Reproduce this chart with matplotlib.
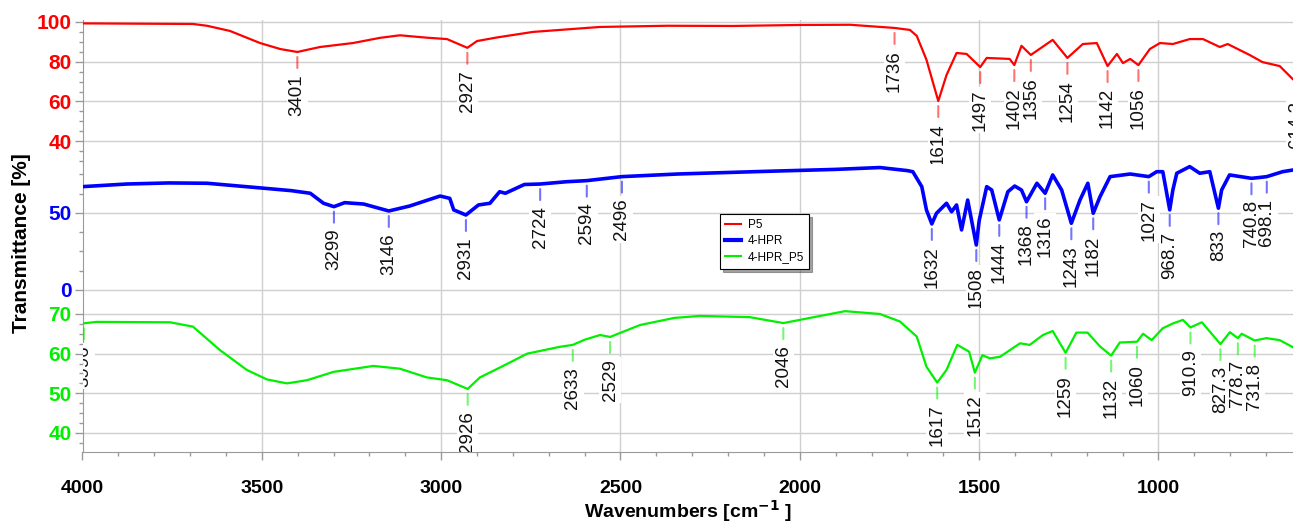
import numpy as np
import matplotlib
matplotlib.use("Agg")
import matplotlib.pyplot as plt
from matplotlib import font_manager
from matplotlib.transforms import offset_copy
from matplotlib.lines import Line2D
from matplotlib.ticker import MultipleLocator, FixedLocator

# ---------------- data ----------------
p5_wn = [4000, 3692, 3653, 3589, 3505, 3449, 3401, 3338, 3246, 3171, 3115, 3040, 2984, 2927,
         2900, 2845, 2744, 2557, 2370, 2186, 2000, 1860, 1736, 1693, 1674, 1647, 1614, 1591,
         1563, 1535, 1497, 1479, 1415, 1402, 1382, 1356, 1295, 1254, 1211, 1172, 1142, 1116,
         1099, 1079, 1056, 1024, 996, 960, 913, 876, 829, 807, 746, 710, 662, 626]
p5_t = [99.3, 99.0, 98.1, 95.5, 89.4, 86.4, 84.9, 87.4, 89.4, 92.0, 93.3, 92.1, 91.4, 87.0,
        90.4, 92.2, 95.0, 97.5, 98.1, 98.0, 98.5, 98.6, 97.0, 96.0, 93.0, 81.0, 60.2, 73.3,
        84.4, 83.9, 77.3, 81.9, 81.4, 78.3, 88.0, 83.4, 91.0, 81.9, 88.9, 89.4, 77.8, 83.9,
        79.3, 81.4, 78.3, 86.4, 89.4, 88.9, 91.4, 91.4, 87.4, 88.9, 83.4, 79.8, 77.8, 71.3]
p5_peaks = ["3401", "2927", "1736", "1614", "1497", "1402", "1356", "1254", "1142", "1056", "614.2"]

hpr_wn = [4000, 3877, 3760, 3653, 3525, 3418, 3365, 3328, 3299, 3269, 3216, 3146, 3088, 3045,
          3003, 2976, 2965, 2931, 2896, 2864, 2837, 2821, 2768, 2724, 2650, 2594, 2496, 2341,
          2100, 1900, 1777, 1700, 1685, 1660, 1647, 1632, 1619, 1591, 1577, 1563, 1549, 1532,
          1508, 1500, 1479, 1465, 1444, 1420, 1401, 1382, 1368, 1339, 1316, 1295, 1270, 1243,
          1219, 1197, 1182, 1163, 1135, 1079, 1027, 1005, 988, 968.7, 960, 949, 913, 885,
          857, 833, 824, 802, 740.8, 720, 698.1, 654, 625]
hpr_t = [67.1, 68.8, 69.5, 69.3, 66.7, 64.5, 62.8, 56.3, 54.1, 56.7, 55.8, 51.3, 54.5, 57.8,
         61.0, 59.5, 52.0, 48.7, 55.2, 56.3, 63.8, 62.8, 68.5, 68.8, 70.3, 71.0, 73.6, 75.3,
         77.0, 78.3, 79.5, 77.5, 76.8, 67.1, 52.0, 42.9, 49.8, 56.3, 50.8, 55.2, 39.0, 58.4,
         29.2, 45.0, 67.1, 64.9, 45.5, 63.8, 67.5, 64.9, 57.3, 69.3, 62.8, 74.7, 64.9, 43.3,
         58.4, 69.3, 49.8, 60.6, 73.6, 75.3, 73.6, 76.8, 76.8, 52.0, 64.9, 75.8, 80.1, 75.8,
         76.8, 53.1, 64.9, 74.7, 72.5, 73.0, 73.6, 76.8, 77.9]
hpr_peaks = ["3299", "3146", "2931", "2724", "2594", "2496", "1632", "1508", "1444", "1368",
             "1316", "1243", "1182", "1027", "968.7", "833", "740.8", "698.1"]

mix_wn = [4000, 3961, 3756, 3692, 3617, 3542, 3486, 3430, 3374, 3300, 3189, 3115, 3040, 2984,
          2926, 2892, 2836, 2760, 2670, 2633, 2600, 2557, 2529, 2446, 2350, 2279, 2140, 2046,
          1972, 1874, 1777, 1721, 1674, 1647, 1617, 1591, 1561, 1528, 1512, 1491, 1470, 1442,
          1386, 1359, 1322, 1295, 1259, 1229, 1198, 1163, 1132, 1108, 1060, 1043, 1019, 988,
          960, 932, 910.9, 879, 827.3, 801, 778.7, 768, 731.8, 699, 662, 625]
mix_t = [67.6, 68.0, 67.9, 66.8, 60.9, 55.9, 53.5, 52.5, 53.3, 55.4, 56.9, 56.2, 54.0, 53.3,
         51.1, 54.0, 56.5, 60.0, 61.7, 62.2, 63.5, 64.7, 64.2, 67.2, 69.0, 69.5, 69.2, 67.7,
         69.0, 70.7, 70.0, 68.1, 64.3, 56.7, 52.7, 55.9, 62.2, 60.5, 55.2, 59.6, 58.8, 59.2,
         62.6, 62.2, 64.7, 65.7, 60.2, 65.3, 65.3, 61.8, 59.5, 62.8, 63.0, 65.0, 63.4, 66.4,
         67.6, 68.5, 66.6, 67.9, 62.4, 65.4, 63.9, 65.0, 63.3, 63.9, 63.4, 61.6]
mix_peaks = ["3996", "2926", "2633", "2529", "2046", "1617", "1512", "1259", "1132", "1060",
             "910.9", "827.3", "778.7", "731.8"]

series_names = ["P5", "4-HPR", "4-HPR_P5"]
x_ticks = [4000, 3500, 3000, 2500, 2000, 1500, 1000]

# ---------------- fonts ----------------
def has_font(name):
    try:
        font_manager.findfont(font_manager.FontProperties(family=name), fallback_to_default=False)
        return True
    except Exception:
        return False

narrow = has_font("Liberation Sans Narrow")
tick_family = ["Liberation Sans Narrow", "DejaVu Sans"] if narrow else ["Liberation Sans", "DejaVu Sans"]
plt.rcParams["font.family"] = ["Liberation Sans", "DejaVu Sans"]

# ---------------- figure ----------------
W, H = 1293, 522
fig = plt.figure(figsize=(W / 100, H / 100), dpi=100)

left_px, top_px, bot_px = 82.5, 20, 452
band = (bot_px - top_px) / 3.0
xl = (left_px / W, 1.0 - left_px / W)

RED, BLUE, GREEN = "#ff0000", "#0000ff", "#00f000"
GRID = "#cfcfcf"
SPINE = "#9a9a9a"

configs = [
    dict(wn=p5_wn, t=p5_t, peaks=p5_peaks, color=RED, lw=1.6, ylim=(28.5, 101.0),
         major=[40, 60, 80, 100], minor=5),
    dict(wn=hpr_wn, t=hpr_t, peaks=hpr_peaks, color=BLUE, lw=2.6, ylim=(-11.7, 81.8),
         major=[0, 50], minor=12.5),
    dict(wn=mix_wn, t=mix_t, peaks=mix_peaks, color=GREEN, lw=1.6, ylim=(35.2, 71.5),
         major=[40, 50, 60, 70], minor=2.5),
]

axes = []
for i, c in enumerate(configs):
    y_top = top_px + i * band
    ax = fig.add_axes([xl[0], 1 - (y_top + band) / H, xl[1], band / H])
    ax.patch.set_alpha(0)
    ax.set_xlim(4000, 625)
    ax.set_ylim(*c["ylim"])
    ax.plot(c["wn"], c["t"], color=c["color"], lw=c["lw"], zorder=4, solid_joinstyle="round")

    ax.xaxis.set_major_locator(FixedLocator(x_ticks))
    ax.xaxis.set_minor_locator(MultipleLocator(100))
    ax.yaxis.set_major_locator(FixedLocator(c["major"]))
    ax.yaxis.set_minor_locator(MultipleLocator(c["minor"]))
    ax.grid(True, which="major", color=GRID, lw=1.0, zorder=0)
    ax.set_axisbelow(True)

    for s in ["top", "right"]:
        ax.spines[s].set_visible(False)
    ax.spines["left"].set_color(SPINE)
    ax.spines["bottom"].set_color(SPINE)
    if i < 2:
        ax.spines["bottom"].set_visible(False)
        ax.tick_params(axis="x", which="both", bottom=False, labelbottom=False)
    ax.tick_params(axis="y", which="major", length=6, width=1, color=SPINE, pad=2,
                   labelcolor=c["color"], labelsize=15)
    ax.tick_params(axis="y", which="minor", length=3, width=1, color=SPINE)
    for lab in ax.get_yticklabels():
        lab.set_fontweight("bold")
        lab.set_family(["Liberation Sans", "DejaVu Sans"])

    # peak labels
    xs = np.array(c["wn"])[::-1]
    ys = np.array(c["t"])[::-1]
    t_a = offset_copy(ax.transData, fig=fig, x=0, y=-5, units="dots")
    t_b = offset_copy(ax.transData, fig=fig, x=0, y=-16, units="dots")
    t_txt = offset_copy(ax.transData, fig=fig, x=0, y=-22, units="dots")
    for lab in c["peaks"]:
        w = float(lab)
        yc = float(np.interp(w, xs, ys))
        ax.annotate("", xy=(w, yc), xycoords=t_a, xytext=(w, yc), textcoords=t_b,
                    arrowprops=dict(arrowstyle="-", color=c["color"], alpha=0.55, lw=1.5,
                                    shrinkA=0, shrinkB=0),
                    annotation_clip=False, zorder=3)
        ax.text(w, yc, lab, transform=t_txt, rotation=90, ha="center", va="top",
                fontsize=13.5, color="#111111", clip_on=True, zorder=3,
                bbox=dict(boxstyle="square,pad=0.12", fc="white", ec="none"))
    axes.append(ax)

axb = axes[-1]
axb.tick_params(axis="x", which="major", length=6, width=1, color=SPINE, pad=14, labelsize=16)
axb.tick_params(axis="x", which="minor", length=3, width=1, color=SPINE)
for lab in axb.get_xticklabels():
    lab.set_fontweight("bold")
    lab.set_family(tick_family)
    if not narrow:
        lab.set_fontsize(14)

fig.text((left_px + W) / 2 / W, 1 - 511 / H, r"Wavenumbers [cm$^{\mathbf{-1}}$ ]",
         ha="center", va="center", fontsize=16 if narrow else 14, fontweight="bold",
         family=tick_family)
fig.text(22 / W, 1 - 243 / H, "Transmittance [%]", rotation=90, ha="center", va="center",
         fontsize=15, fontweight="bold")

handles = [Line2D([], [], color=RED, lw=1.5),
           Line2D([], [], color=BLUE, lw=3),
           Line2D([], [], color=GREEN, lw=1.5)]
leg = fig.legend(handles, series_names, loc="upper left",
                 bbox_to_anchor=(720 / W, 1 - 214 / H), fontsize=8.5, frameon=True,
                 fancybox=False, shadow=True, handlelength=1.3, handletextpad=0.6,
                 borderpad=0.45, labelspacing=0.35, framealpha=1, borderaxespad=0)
leg.get_frame().set_edgecolor("black")
leg.get_frame().set_linewidth(0.8)

fig.savefig("out.png", dpi=100)
